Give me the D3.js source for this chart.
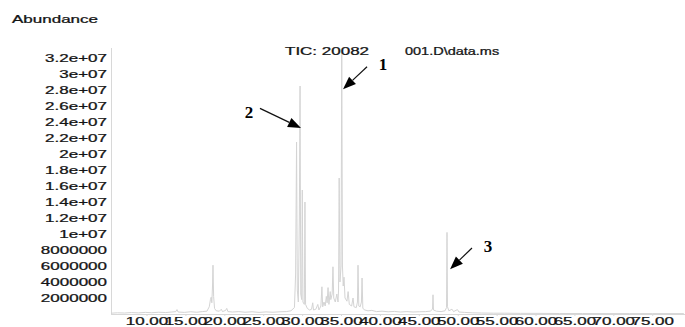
<!DOCTYPE html>
<html>
<head>
<meta charset="utf-8">
<script src="https://cdn.jsdelivr.net/npm/d3@7/dist/d3.min.js"></script>
<style>
  html, body { margin: 0; padding: 0; background: #fff; }
  svg { display: block; }
</style>
</head>
<body>
<svg id="chart" width="685" height="327"></svg>
<script>
// ---- data (time in min, abundance in counts) ----
const times = [
  5.40, 6.20, 7.10, 8.00, 8.90, 9.80, 10.60, 11.50, 12.40, 13.20, 13.70, 13.85, 14.00,
  14.80, 15.60, 16.40, 17.10, 17.70, 18.00, 18.15, 18.25, 18.33, 18.42, 18.48, 18.56,
  18.68, 18.90, 19.30, 19.55, 19.70, 20.10, 20.25, 20.40, 21.00, 21.80, 22.60, 23.50,
  24.40, 25.30, 26.20, 27.10, 27.90, 28.50, 28.95, 29.10, 29.22, 29.32, 29.45, 29.58,
  29.67, 29.76, 29.88, 29.96, 30.04, 30.22, 30.30, 30.38, 30.60, 30.90, 31.15, 31.30,
  31.40, 31.70, 31.95, 32.10, 32.35, 32.48, 32.58, 32.75, 32.90, 33.05, 33.15, 33.27,
  33.38, 33.55, 33.62, 33.80, 33.90, 34.00, 34.20, 34.40, 34.55, 34.62, 34.70, 34.80,
  34.94, 35.03, 35.12, 35.22, 35.32, 35.45, 35.70, 35.85, 36.00, 36.30, 36.48, 36.60,
  36.90, 37.05, 37.12, 37.22, 37.40, 37.56, 37.64, 37.74, 38.00, 38.40, 38.90, 39.50,
  40.20, 41.00, 41.80, 42.60, 43.40, 44.20, 45.00, 45.80, 46.40, 46.70, 46.76, 46.82,
  47.20, 47.80, 48.30, 48.50, 48.56, 48.62, 48.80, 49.20, 49.40, 49.90, 50.10, 50.80,
  51.80, 53.00, 54.50, 56.00, 58.00, 60.00, 63.00, 66.00, 69.00, 72.00, 75.00, 79.00
];
const abundance = [
  0.10, 0.15, 0.12, 0.18, 0.14, 0.20, 0.16, 0.22, 0.18, 0.25, 0.30, 0.55, 0.25,
  0.20, 0.28, 0.22, 0.30, 0.35, 0.90, 1.80, 2.10, 1.40, 3.50, 6.10, 2.20,
  0.70, 0.40, 0.35, 0.60, 0.30, 0.45, 0.70, 0.30, 0.25, 0.30, 0.22, 0.28,
  0.20, 0.26, 0.22, 0.28, 0.30, 0.40, 0.80, 5.00, 21.50, 3.00, 1.50, 12.00,
  28.50, 2.50, 1.80, 15.50, 1.50, 1.20, 14.00, 1.20, 0.70, 0.50, 0.60, 1.40,
  0.50, 0.60, 1.20, 0.50, 1.00, 3.40, 0.90, 1.50, 1.00, 2.20, 1.40, 3.30,
  1.20, 2.80, 1.80, 2.50, 5.90, 2.00, 1.50, 2.50, 1.50, 3.00, 17.00, 4.00,
  6.00, 32.70, 6.00, 3.50, 4.60, 2.00, 1.60, 2.80, 1.20, 1.00, 2.00, 0.90,
  0.80, 1.50, 6.10, 1.00, 0.90, 1.50, 4.50, 0.70, 0.50, 0.40, 0.45, 0.30,
  0.35, 0.28, 0.32, 0.25, 0.30, 0.25, 0.28, 0.30, 0.35, 0.60, 2.40, 0.50,
  0.35, 0.30, 0.40, 0.80, 10.20, 0.90, 0.40, 0.60, 0.30, 0.55, 0.25, 0.20,
  0.15, 0.12, 0.10, 0.10, 0.08, 0.08, 0.06, 0.06, 0.05, 0.05, 0.05, 0.05
].map(v => v * 1e6);

const xTicks = [10, 15, 20, 25, 30, 35, 40, 45, 50, 55, 60, 65, 70, 75];
const yTicks = [2e6, 4e6, 6e6, 8e6, 1e7, 1.2e7, 1.4e7, 1.6e7, 1.8e7, 2e7, 2.2e7, 2.4e7, 2.6e7, 2.8e7, 3e7, 3.2e7];
const yTickLabels = ["2000000", "4000000", "6000000", "8000000", "1e+07", "1.2e+07", "1.4e+07", "1.6e+07",
                     "1.8e+07", "2e+07", "2.2e+07", "2.4e+07", "2.6e+07", "2.8e+07", "3e+07", "3.2e+07"];

// annotations: arrow tip / tail / label in data units
const annLabels = ["1", "2", "3"];
const annTip = [[35.19, 28.1e6], [29.79, 23.25e6], [48.95, 5.6e6]];
const annTail = [[38.28, 30.9e6], [24.52, 25.7e6], [51.77, 8.25e6]];
const annText = [[40.33, 31.3e6], [23.11, 25.2e6], [53.83, 8.5e6]];

const yTitle = "Abundance";
const titleParts = ["TIC: 20082", "001.D\\data.ms"];

// ---- layout ----
const svg = d3.select("#chart");
const mLeft = 111, mRight = 685, mTop = 48, mBottom = 314;
const SX = 1.7; // horizontal stretch of the text
const font = "'Liberation Sans', Arial, sans-serif";
const textColor = "#141414";
const lineColor = "#d4d4d4";

const x = d3.scaleLinear().domain([5.37, 79.15]).range([mLeft, mRight]);
const y = d3.scaleLinear().domain([0, 3.325e7]).range([mBottom, mTop]);

function styleText(sel) {
  sel.attr("fill", textColor).attr("stroke", textColor).attr("stroke-width", 0.25)
     .attr("font-family", font).attr("font-size", 10);
}

// y axis
const yAxis = d3.axisLeft(y).tickValues(yTicks).tickSize(0).tickPadding(0)
  .tickFormat((d, i) => yTickLabels[i]);
const gy = svg.append("g").attr("transform", `translate(${mLeft},0)`).call(yAxis);
gy.select(".domain").attr("stroke", "#d8d8d8").attr("d", `M0.5,${mTop}V${mBottom}`);
gy.selectAll("text")
  .attr("x", -4 / SX).attr("dy", "0.35em")
  .attr("transform", `scale(${SX},1)`)
  .call(styleText);

// x axis
const xAxis = d3.axisBottom(x).tickValues(xTicks).tickSize(2).tickPadding(2)
  .tickFormat(d3.format(".2f"));
const gx = svg.append("g").attr("transform", `translate(0,${mBottom})`).call(xAxis);
gx.select(".domain").attr("stroke", "#d8d8d8").attr("d", `M${mLeft},0.5H${mRight}`);
gx.selectAll(".tick line").attr("stroke", "#d8d8d8");
gx.selectAll("text")
  .attr("y", 11).attr("dy", 0)
  .call(styleText);
gx.selectAll(".tick").each(function(d) {
  const t = d3.select(this);
  const px = x(d);
  t.attr("transform", null);
  t.select("line").attr("x1", px).attr("x2", px);
  t.select("text").attr("x", px / SX).attr("transform", `scale(${SX},1)`);
});

// chromatogram line
const line = d3.line().x((d, i) => x(times[i])).y((d, i) => y(abundance[i]));
svg.append("path")
  .datum(times)
  .attr("d", line)
  .attr("fill", "none")
  .attr("stroke", lineColor)
  .attr("stroke-width", 1);

// titles
svg.append("text")
  .attr("transform", `translate(12,23) scale(${SX},1)`)
  .call(styleText)
  .text(yTitle);
svg.append("text")
  .attr("transform", `translate(285,55) scale(${SX},1)`)
  .call(styleText)
  .text(titleParts[0]);
svg.append("text")
  .attr("transform", `translate(405,55) scale(1.45,1)`)
  .call(styleText)
  .text(titleParts[1]);

// arrows
const headLen = 13, headHalf = 5;
annLabels.forEach((lab, i) => {
  const tx = x(annTip[i][0]), ty = y(annTip[i][1]);
  const sx = x(annTail[i][0]), sy = y(annTail[i][1]);
  const dx = tx - sx, dy = ty - sy, len = Math.hypot(dx, dy);
  const ux = dx / len, uy = dy / len;
  const bx = tx - ux * headLen, by = ty - uy * headLen;
  svg.append("line")
    .attr("x1", sx).attr("y1", sy).attr("x2", bx).attr("y2", by)
    .attr("stroke", "#111").attr("stroke-width", 1.2);
  svg.append("path")
    .attr("d", `M${tx},${ty}L${bx - uy * headHalf},${by + ux * headHalf}L${bx + uy * headHalf},${by - ux * headHalf}Z`)
    .attr("fill", "#000");
  svg.append("text")
    .attr("x", x(annText[i][0])).attr("y", y(annText[i][1]))
    .attr("dy", "0.35em").attr("text-anchor", "middle")
    .attr("font-family", "'Liberation Serif', 'Times New Roman', serif")
    .attr("font-weight", "bold").attr("font-size", 17).attr("fill", "#000")
    .text(lab);
});
</script>
</body>
</html>
